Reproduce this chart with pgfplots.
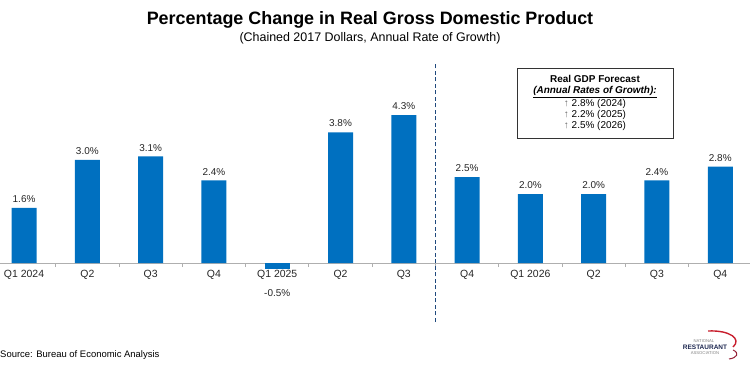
\documentclass[border=0pt]{standalone}
\usepackage{pgfplots}
\pgfplotsset{compat=1.18}
\usepackage{fontspec}
\setmainfont{Liberation Sans}
\definecolor{barblue}{RGB}{0,112,192}
\definecolor{dashblue}{RGB}{31,73,125}
\definecolor{axisgrey}{RGB}{175,175,175}
\definecolor{naranavy}{RGB}{30,40,80}
\definecolor{narared}{RGB}{200,30,45}
\begin{document}
\begin{tikzpicture}
\useasboundingbox (0,-48bp) rectangle (750bp,322bp);
\begin{axis}[
 at={(0,0)}, anchor=south west,
 scale only axis, width=750bp, height=258bp,
 xmin=-0.38, xmax=11.47, ymin=-1.715, ymax=5.785,
 axis x line=middle, axis y line=none,
 axis line style={axisgrey, line width=1bp, -},
 ybar, bar width=25bp,
 xtick={0,...,11},
 xticklabels={Q1 2024,Q2,Q3,Q4,Q1 2025,Q2,Q3,Q4,Q1 2026,Q2,Q3,Q4},
 minor xtick={0.5,1.5,...,10.5},
 major tick length=0pt, minor tick length=4bp,
 tick align=outside,
 minor tick style={axisgrey, line width=0.8bp},
 xticklabel style={font=\fontsize{10.5}{12}\selectfont, text=black!85, inner sep=0pt, anchor=north, yshift=-6.5bp},
 clip=false,
 point meta=explicit,
 nodes near coords={\pgfmathprintnumber[fixed,fixed zerofill,precision=1,assume math mode=true]{\pgfplotspointmeta}\%},
]
\addplot[fill=barblue, draw=none, bar shift=0pt,
  nodes near coords style={font=\fontsize{10}{12}\selectfont, text=black!85, anchor=south, inner sep=0pt, yshift=5bp}]
  coordinates {(0,1.6) [1.6] (1,3.0) [3.0] (2,3.1) [3.1] (3,2.4) [2.4]
               (5,3.8) [3.8] (6,4.3) [4.3] (7,2.5) [2.5] (8,2.0) [2.0]
               (9,2.0) [2.0] (10,2.4) [2.4] (11,2.8) [2.8]};
\addplot[fill=barblue, draw=none, bar shift=0pt,
  nodes near coords style={font=\fontsize{10}{12}\selectfont, text=black!85, anchor=north, inner sep=0pt, yshift=-20bp}]
  coordinates {(4,-0.18) [-0.5]};
\draw[dashblue, line width=1.6bp, dash pattern=on 4bp off 2.5bp]
  (axis cs:6.5,-1.715) -- (axis cs:6.5,5.785);
\end{axis}
\node[font=\bfseries\fontsize{18}{21}\selectfont] at (370bp,302bp) {Percentage Change in Real Gross Domestic Product};
\node[font=\fontsize{12.5}{15}\selectfont] at (370bp,284bp) {(Chained 2017 Dollars, Annual Rate of Growth)};
\draw[black!80, line width=0.8bp] (517bp,184bp) rectangle (673bp,254bp);
\node[font=\fontsize{10}{11.25}\selectfont, align=center, inner sep=0pt] at (595bp,219bp)
  {\textbf{Real GDP Forecast}\\
   \textbf{\textit{\underline{(Annual Rates of Growth):}}}\\
   {\color{black!60}↑} 2.8\% (2024)\\
   {\color{black!60}↑} 2.2\% (2025)\\
   {\color{black!60}↑} 2.5\% (2026)};
\node[anchor=west, font=\fontsize{9.5}{11}\selectfont, inner sep=0pt] at (0,-33bp) {Source: Bureau of Economic Analysis};
\node[font=\fontsize{4.2}{5}\selectfont, text=gray, inner sep=0pt] at (704bp,-19bp) {NATIONAL};
\node[font=\bfseries\fontsize{6.5}{7}\selectfont, text=naranavy, inner sep=0pt] at (705bp,-25bp) {RESTAURANT};
\node[font=\fontsize{4.2}{5}\selectfont, text=gray, inner sep=0pt] at (705bp,-31bp) {ASSOCIATION};
\draw[narared, line width=1.4bp] (708bp,-9bp) .. controls (730bp,-8bp) and (742bp,-17bp) .. (733bp,-25bp);
\draw[narared!70!naranavy, line width=1bp] (733bp,-28bp) .. controls (740bp,-31bp) and (737bp,-36bp) .. (729bp,-37bp);
\end{tikzpicture}
\end{document}
